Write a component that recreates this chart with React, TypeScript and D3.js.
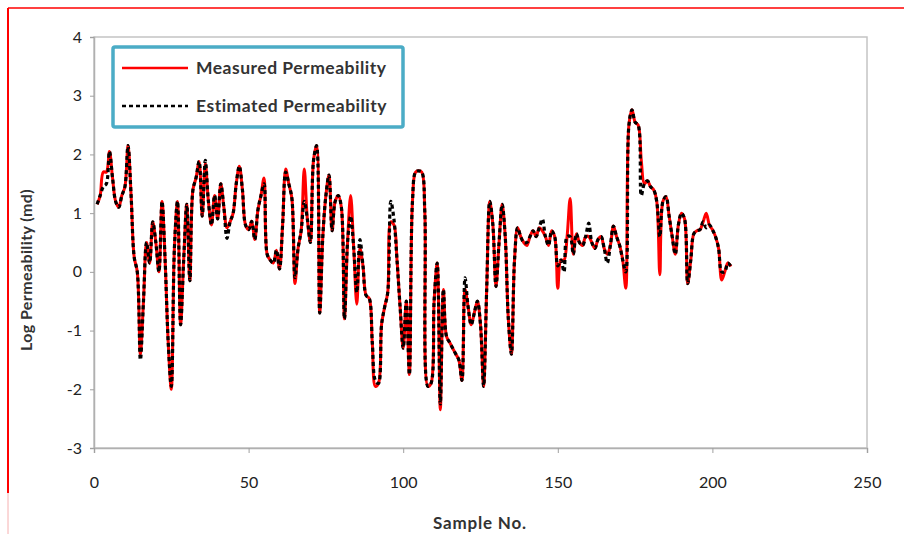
import React, {useEffect, useRef} from 'react';
import * as d3 from 'd3';

// log permeability per sample (samples 1..206)
const measured = [
    1.15, 1.3, 1.7, 1.7, 2.05, 1.6, 1.2, 1.1, 1.3, 1.45,
    2.15, 1.3, 0.25, 0.0, -1.4, -0.5, 0.5, 0.15, 0.85, 0.5,
    0.0, 1.2, 0.2, -1.2, -2.0, 0.4, 1.2, -0.9, 0.2, 1.15,
    -0.15, 1.4, 1.6, 1.88, 0.95, 1.85, 1.2, 0.8, 1.3, 0.9,
    1.5, 1.1, 0.75, 0.85, 1.0, 1.5, 1.8, 1.4, 0.8, 0.72,
    0.86, 0.55, 1.05, 1.3, 1.6, 0.3, 0.2, 0.15, 0.37, 0.05,
    0.8, 1.75, 1.5, 1.25, -0.2, 0.4, 0.7, 1.75, 0.9, 0.5,
    1.9, 2.15, -0.7, 0.6, 1.3, 1.65, 0.7, 1.2, 1.3, 1.1,
    -0.8, 0.5, 1.3, 0.4, -0.55, 0.4, 0.1, -0.4, -0.45, -1.2,
    -1.95, -1.9, -0.9, -0.6, -0.35, 0.85, 0.8, 0.2, -0.6, -1.3,
    -0.5, -1.75, 1.2, 1.7, 1.72, 1.7, 1.0, -1.95, -1.9, -0.5,
    0.15, -2.35, -0.3, -1.1, -1.2, -1.3, -1.4, -1.5, -1.85, -0.3,
    -0.6, -0.9, -0.7, -0.5, -0.9, -1.95, -0.3, 1.2, 0.8, -0.25,
    0.5, 1.15, 0.6, -0.8, -1.4, 0.2, 0.75, 0.6, 0.5, 0.45,
    0.6, 0.7, 0.6, 0.75, 0.7, 0.6, 0.45, 0.7, 0.6, -0.28,
    0.2, 0.2, 0.6, 1.25, 0.3, 0.65, 0.5, 0.45, 0.6, 0.6,
    0.5, 0.4, 0.55, 0.6, 0.4, 0.3, 0.45, 0.78, 0.6, 0.45,
    0.2, -0.28, 2.5, 2.76, 2.55, 2.5, 1.9, 1.5, 1.55, 1.45,
    1.4, 1.2, -0.05, 1.2, 1.28, 0.95, 0.6, 0.3, 0.8, 1.0,
    0.9, -0.2, 0.2, 0.65, 0.7, 0.72, 0.85, 1.0, 0.8, 0.72,
    0.6, 0.4, -0.14, 0.0, 0.15, 0.09
];

const estimated = [
    1.15, 1.3, 1.45, 1.5, 2.05, 1.6, 1.2, 1.1, 1.3, 1.45,
    2.15, 1.3, 0.25, 0.0, -1.5, -0.5, 0.5, 0.15, 0.85, 0.5,
    0.0, 1.2, 0.2, -1.2, -1.95, 0.4, 1.2, -0.9, 0.2, 1.15,
    -0.15, 1.4, 1.6, 1.88, 0.95, 1.9, 1.2, 0.8, 1.3, 0.9,
    1.5, 1.1, 0.57, 0.85, 1.0, 1.5, 1.8, 1.4, 0.8, 0.72,
    0.86, 0.55, 1.05, 1.3, 1.5, 0.3, 0.2, 0.15, 0.37, 0.05,
    0.8, 1.7, 1.5, 1.25, -0.1, 0.4, 0.7, 1.2, 0.9, 0.5,
    1.9, 2.15, -0.7, 0.6, 1.3, 1.65, 0.7, 1.2, 1.3, 1.1,
    -0.8, 0.5, 0.95, 0.4, -0.35, 0.55, 0.1, -0.4, -0.45, -1.2,
    -1.85, -1.9, -0.9, -0.6, -0.35, 1.2, 0.9, 0.2, -0.6, -1.3,
    -0.5, -1.75, 1.2, 1.7, 1.72, 1.7, 1.0, -1.95, -1.9, -0.5,
    0.15, -2.25, -0.3, -1.1, -1.2, -1.3, -1.4, -1.5, -1.85, -0.1,
    -0.6, -0.9, -0.7, -0.5, -0.9, -1.95, -0.3, 1.2, 0.8, -0.25,
    0.5, 1.15, 0.6, -0.8, -1.4, 0.2, 0.75, 0.6, 0.5, 0.5,
    0.6, 0.7, 0.6, 0.75, 0.9, 0.6, 0.45, 0.7, 0.6, 0.1,
    0.2, 0.0, 0.6, 0.6, 0.3, 0.65, 0.5, 0.45, 0.6, 0.83,
    0.5, 0.4, 0.55, 0.6, 0.4, 0.15, 0.45, 0.78, 0.6, 0.45,
    0.2, 0.0, 2.5, 2.76, 2.55, 2.5, 1.3, 1.5, 1.55, 1.45,
    1.4, 1.2, 0.6, 1.2, 1.28, 0.95, 0.6, 0.3, 0.8, 1.0,
    0.9, -0.2, 0.2, 0.65, 0.7, 0.72, 0.85, 0.75, 0.8, 0.72,
    0.6, 0.4, 0.0, 0.0, 0.15, 0.09
];

const xTicks = [0, 50, 100, 150, 200, 250];
const yTicks = [-3, -2, -1, 0, 1, 2, 3, 4];
const seriesNames = ['Measured Permeability', 'Estimated Permeability'];

const FONT = 'Lato, "Open Sans", sans-serif';

export default function App() {
    const svgRef = useRef<SVGSVGElement>(null);

    useEffect(() => {
        const svg = d3.select(svgRef.current);
        svg.selectAll('*').remove();

        const left = 94, right = 867, top = 37, bottom = 448;

        const x = d3.scaleLinear().domain([0, 250]).range([left, right]);
        const y = d3.scaleLinear().domain([-3, 4]).range([bottom, top]);

        // red page borders from the screenshot
        svg.append('line').attr('x1', 8).attr('x2', 904).attr('y1', 8).attr('y2', 8)
            .attr('stroke', '#f00').attr('stroke-width', 1.5);
        svg.append('line').attr('x1', 8).attr('x2', 8).attr('y1', 8).attr('y2', 493)
            .attr('stroke', '#f00').attr('stroke-width', 2);
        svg.append('line').attr('x1', 8).attr('x2', 8).attr('y1', 493).attr('y2', 534)
            .attr('stroke', '#f6b0b0').attr('stroke-width', 1);

        // plot frame
        svg.append('rect')
            .attr('x', left).attr('y', top)
            .attr('width', right - left).attr('height', bottom - top)
            .attr('fill', 'none').attr('stroke', '#c4c4c4').attr('stroke-width', 1.5);

        const yAxis = svg.append('g')
            .attr('transform', `translate(${left},0)`)
            .call(d3.axisLeft(y).tickValues(yTicks).tickSize(4).tickPadding(8).tickFormat(d => String(d)));
        const xAxis = svg.append('g')
            .attr('transform', `translate(0,${bottom})`)
            .call(d3.axisBottom(x).tickValues(xTicks).tickSize(5).tickPadding(24).tickFormat(d => String(d)));

        [yAxis, xAxis].forEach(g => {
            g.select('.domain').attr('stroke', '#b0b0b0').attr('stroke-width', 1.5);
            g.selectAll('.tick line').attr('stroke', '#a0a0a0');
            g.selectAll('.tick text')
                .attr('fill', '#222')
                .attr('font-family', FONT)
                .attr('font-size', '16px');
        });

        const line = d3.line<number>()
            .x((d, i) => x(i + 1))
            .y(d => y(d))
            .curve(d3.curveCatmullRom.alpha(0.5));

        svg.append('path')
            .datum(measured)
            .attr('fill', 'none')
            .attr('stroke', '#ff0000')
            .attr('stroke-width', 3)
            .attr('d', line);

        svg.append('path')
            .datum(estimated)
            .attr('fill', 'none')
            .attr('stroke', '#000')
            .attr('stroke-width', 3.2)
            .attr('stroke-dasharray', '4,3')
            .attr('d', line);

        // axis titles
        svg.append('text')
            .attr('transform', 'translate(32,270) rotate(-90)')
            .attr('text-anchor', 'middle')
            .attr('font-family', FONT)
            .attr('font-weight', 'bold')
            .attr('font-size', '16px')
            .attr('letter-spacing', '0.4px')
            .attr('fill', '#333')
            .text('Log Permeability (md)');

        svg.append('text')
            .attr('x', 480).attr('y', 529)
            .attr('text-anchor', 'middle')
            .attr('font-family', FONT)
            .attr('font-weight', 'bold')
            .attr('font-size', '17px')
            .attr('letter-spacing', '0.8px')
            .attr('fill', '#333')
            .text('Sample No.');

        // legend
        const legend = svg.append('g');
        legend.append('rect')
            .attr('x', 113).attr('y', 47).attr('width', 290).attr('height', 80).attr('rx', 2)
            .attr('fill', '#fff').attr('stroke', '#4bacc6').attr('stroke-width', 3.5);
        const rows = [
            {name: seriesNames[0], color: '#ff0000', dash: null, w: 2.5, ly: 68},
            {name: seriesNames[1], color: '#000', dash: '4,3', w: 2.5, ly: 106},
        ];
        rows.forEach(r => {
            legend.append('line')
                .attr('x1', 122).attr('x2', 188).attr('y1', r.ly).attr('y2', r.ly)
                .attr('stroke', r.color).attr('stroke-width', r.w)
                .attr('stroke-dasharray', r.dash);
            legend.append('text')
                .attr('x', 196).attr('y', r.ly + 6)
                .attr('font-family', FONT)
                .attr('font-weight', 'bold')
                .attr('font-size', '17.5px')
                .attr('letter-spacing', '0.5px')
                .attr('fill', '#333')
                .text(r.name);
        });
    }, []);

    return (
        <svg ref={svgRef} width={904} height={534}
             style={{position: 'absolute', left: 0, top: 0, background: '#fff'}}/>
    );
}
